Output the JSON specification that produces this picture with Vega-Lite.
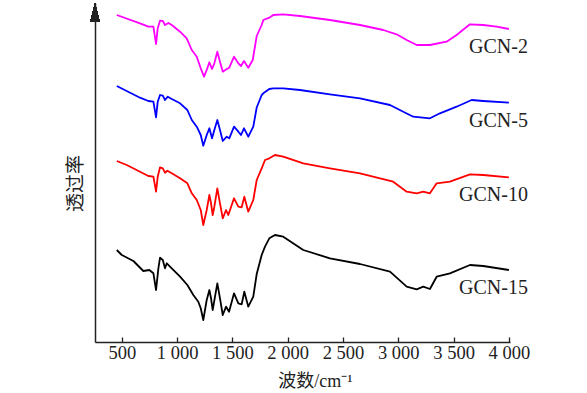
{
  "$schema": "https://vega.github.io/schema/vega-lite/v6.json",
  "width": 415,
  "height": 339,
  "autosize": {"type": "none"},
  "padding": {"left": 95, "top": 3, "right": 77, "bottom": 51},
  "background": "white",
  "config": {"view": {"stroke": null}, "axis": {"grid": false}},
  "data": {"values": [
    {"s":"GCN-2","wn":455,"t":327},{"s":"GCN-2","wn":665,"t":318.7},{"s":"GCN-2","wn":740,"t":315.3},{"s":"GCN-2","wn":786,"t":315.3},{"s":"GCN-2","wn":810,"t":298},{"s":"GCN-2","wn":825,"t":313.7},{"s":"GCN-2","wn":846,"t":321.3},{"s":"GCN-2","wn":871,"t":321},{"s":"GCN-2","wn":891,"t":317},{"s":"GCN-2","wn":921,"t":319},{"s":"GCN-2","wn":952,"t":317},{"s":"GCN-2","wn":1027,"t":310.3},{"s":"GCN-2","wn":1087,"t":303.7},{"s":"GCN-2","wn":1133,"t":292},{"s":"GCN-2","wn":1178,"t":285.3},{"s":"GCN-2","wn":1214,"t":273.7},{"s":"GCN-2","wn":1244,"t":265.3},{"s":"GCN-2","wn":1268,"t":272},{"s":"GCN-2","wn":1292,"t":279.7},{"s":"GCN-2","wn":1316,"t":273},{"s":"GCN-2","wn":1337,"t":278.7},{"s":"GCN-2","wn":1364,"t":290.3},{"s":"GCN-2","wn":1388,"t":280.3},{"s":"GCN-2","wn":1413,"t":270.3},{"s":"GCN-2","wn":1449,"t":273},{"s":"GCN-2","wn":1472,"t":274.3},{"s":"GCN-2","wn":1515,"t":285.3},{"s":"GCN-2","wn":1554,"t":278.7},{"s":"GCN-2","wn":1578,"t":276},{"s":"GCN-2","wn":1605,"t":281},{"s":"GCN-2","wn":1644,"t":274.3},{"s":"GCN-2","wn":1684,"t":282},{"s":"GCN-2","wn":1720,"t":306},{"s":"GCN-2","wn":1765,"t":317},{"s":"GCN-2","wn":1780,"t":322},{"s":"GCN-2","wn":1834,"t":324.3},{"s":"GCN-2","wn":1870,"t":327},{"s":"GCN-2","wn":1960,"t":327.7},{"s":"GCN-2","wn":2111,"t":326},{"s":"GCN-2","wn":2382,"t":322},{"s":"GCN-2","wn":2654,"t":317},{"s":"GCN-2","wn":2864,"t":312},{"s":"GCN-2","wn":2985,"t":307.7},{"s":"GCN-2","wn":3076,"t":302},{"s":"GCN-2","wn":3166,"t":297},{"s":"GCN-2","wn":3286,"t":297},{"s":"GCN-2","wn":3437,"t":300.3},{"s":"GCN-2","wn":3527,"t":307},{"s":"GCN-2","wn":3648,"t":317.7},{"s":"GCN-2","wn":3768,"t":317},{"s":"GCN-2","wn":3889,"t":315.3},{"s":"GCN-2","wn":4000,"t":313},

    {"s":"GCN-5","wn":455,"t":256},{"s":"GCN-5","wn":665,"t":244.3},{"s":"GCN-5","wn":740,"t":241},{"s":"GCN-5","wn":786,"t":240.3},{"s":"GCN-5","wn":810,"t":224.7},{"s":"GCN-5","wn":825,"t":240.3},{"s":"GCN-5","wn":846,"t":247},{"s":"GCN-5","wn":871,"t":246.3},{"s":"GCN-5","wn":891,"t":242},{"s":"GCN-5","wn":916,"t":245.3},{"s":"GCN-5","wn":952,"t":243},{"s":"GCN-5","wn":1027,"t":238.7},{"s":"GCN-5","wn":1093,"t":232},{"s":"GCN-5","wn":1133,"t":222},{"s":"GCN-5","wn":1178,"t":215.3},{"s":"GCN-5","wn":1214,"t":207},{"s":"GCN-5","wn":1237,"t":196.3},{"s":"GCN-5","wn":1268,"t":207},{"s":"GCN-5","wn":1292,"t":213.7},{"s":"GCN-5","wn":1316,"t":203.7},{"s":"GCN-5","wn":1337,"t":212},{"s":"GCN-5","wn":1364,"t":222},{"s":"GCN-5","wn":1388,"t":212},{"s":"GCN-5","wn":1413,"t":201},{"s":"GCN-5","wn":1449,"t":205.3},{"s":"GCN-5","wn":1472,"t":203.7},{"s":"GCN-5","wn":1515,"t":215.3},{"s":"GCN-5","wn":1554,"t":210.3},{"s":"GCN-5","wn":1578,"t":207},{"s":"GCN-5","wn":1605,"t":213.7},{"s":"GCN-5","wn":1644,"t":205.3},{"s":"GCN-5","wn":1689,"t":215.3},{"s":"GCN-5","wn":1720,"t":234.5},{"s":"GCN-5","wn":1765,"t":247},{"s":"GCN-5","wn":1780,"t":248.7},{"s":"GCN-5","wn":1834,"t":253},{"s":"GCN-5","wn":1870,"t":253.7},{"s":"GCN-5","wn":1960,"t":253.7},{"s":"GCN-5","wn":2111,"t":252},{"s":"GCN-5","wn":2382,"t":247.7},{"s":"GCN-5","wn":2654,"t":243.7},{"s":"GCN-5","wn":2925,"t":237},{"s":"GCN-5","wn":3045,"t":230.3},{"s":"GCN-5","wn":3135,"t":225.3},{"s":"GCN-5","wn":3286,"t":223.7},{"s":"GCN-5","wn":3377,"t":228.7},{"s":"GCN-5","wn":3527,"t":235.3},{"s":"GCN-5","wn":3663,"t":242},{"s":"GCN-5","wn":3768,"t":241},{"s":"GCN-5","wn":4000,"t":239.3},

    {"s":"GCN-10","wn":455,"t":181},{"s":"GCN-10","wn":545,"t":177},{"s":"GCN-10","wn":665,"t":170.3},{"s":"GCN-10","wn":740,"t":166},{"s":"GCN-10","wn":786,"t":165.3},{"s":"GCN-10","wn":810,"t":150.3},{"s":"GCN-10","wn":825,"t":165.3},{"s":"GCN-10","wn":846,"t":174.7},{"s":"GCN-10","wn":871,"t":173.7},{"s":"GCN-10","wn":891,"t":169.3},{"s":"GCN-10","wn":912,"t":171.3},{"s":"GCN-10","wn":952,"t":168.7},{"s":"GCN-10","wn":1027,"t":163.7},{"s":"GCN-10","wn":1093,"t":158.7},{"s":"GCN-10","wn":1133,"t":148.7},{"s":"GCN-10","wn":1178,"t":142},{"s":"GCN-10","wn":1214,"t":132},{"s":"GCN-10","wn":1237,"t":117},{"s":"GCN-10","wn":1268,"t":132},{"s":"GCN-10","wn":1292,"t":147},{"s":"GCN-10","wn":1307,"t":138.7},{"s":"GCN-10","wn":1322,"t":127},{"s":"GCN-10","wn":1337,"t":135.3},{"s":"GCN-10","wn":1364,"t":153.7},{"s":"GCN-10","wn":1388,"t":138.7},{"s":"GCN-10","wn":1413,"t":123.7},{"s":"GCN-10","wn":1443,"t":132},{"s":"GCN-10","wn":1463,"t":127},{"s":"GCN-10","wn":1515,"t":143.7},{"s":"GCN-10","wn":1554,"t":135.3},{"s":"GCN-10","wn":1584,"t":134.7},{"s":"GCN-10","wn":1608,"t":145.3},{"s":"GCN-10","wn":1644,"t":130.3},{"s":"GCN-10","wn":1689,"t":142},{"s":"GCN-10","wn":1720,"t":162},{"s":"GCN-10","wn":1765,"t":173.7},{"s":"GCN-10","wn":1795,"t":182},{"s":"GCN-10","wn":1834,"t":183.7},{"s":"GCN-10","wn":1885,"t":187},{"s":"GCN-10","wn":1960,"t":185.3},{"s":"GCN-10","wn":2141,"t":178.7},{"s":"GCN-10","wn":2382,"t":173.7},{"s":"GCN-10","wn":2654,"t":168.7},{"s":"GCN-10","wn":2954,"t":160.3},{"s":"GCN-10","wn":3076,"t":150.3},{"s":"GCN-10","wn":3166,"t":148.7},{"s":"GCN-10","wn":3226,"t":150.3},{"s":"GCN-10","wn":3286,"t":148.7},{"s":"GCN-10","wn":3347,"t":158.7},{"s":"GCN-10","wn":3467,"t":160.3},{"s":"GCN-10","wn":3648,"t":167.7},{"s":"GCN-10","wn":3768,"t":167},{"s":"GCN-10","wn":4000,"t":164.7},

    {"s":"GCN-15","wn":455,"t":92},{"s":"GCN-15","wn":500,"t":87},{"s":"GCN-15","wn":605,"t":81},{"s":"GCN-15","wn":695,"t":71},{"s":"GCN-15","wn":749,"t":72},{"s":"GCN-15","wn":786,"t":68.7},{"s":"GCN-15","wn":810,"t":52},{"s":"GCN-15","wn":831,"t":73.7},{"s":"GCN-15","wn":846,"t":84.3},{"s":"GCN-15","wn":871,"t":82},{"s":"GCN-15","wn":891,"t":73.7},{"s":"GCN-15","wn":907,"t":78.7},{"s":"GCN-15","wn":952,"t":73.7},{"s":"GCN-15","wn":1027,"t":65.3},{"s":"GCN-15","wn":1093,"t":57},{"s":"GCN-15","wn":1147,"t":47},{"s":"GCN-15","wn":1192,"t":40.3},{"s":"GCN-15","wn":1214,"t":33.7},{"s":"GCN-15","wn":1237,"t":22},{"s":"GCN-15","wn":1268,"t":42},{"s":"GCN-15","wn":1292,"t":52},{"s":"GCN-15","wn":1307,"t":43.7},{"s":"GCN-15","wn":1322,"t":32},{"s":"GCN-15","wn":1343,"t":45.3},{"s":"GCN-15","wn":1364,"t":58.7},{"s":"GCN-15","wn":1388,"t":43.7},{"s":"GCN-15","wn":1413,"t":27},{"s":"GCN-15","wn":1443,"t":35.3},{"s":"GCN-15","wn":1470,"t":30.3},{"s":"GCN-15","wn":1515,"t":48.7},{"s":"GCN-15","wn":1554,"t":38.7},{"s":"GCN-15","wn":1584,"t":37.7},{"s":"GCN-15","wn":1608,"t":50.3},{"s":"GCN-15","wn":1644,"t":35.3},{"s":"GCN-15","wn":1689,"t":45.3},{"s":"GCN-15","wn":1720,"t":68},{"s":"GCN-15","wn":1765,"t":87},{"s":"GCN-15","wn":1795,"t":95.3},{"s":"GCN-15","wn":1834,"t":103.7},{"s":"GCN-15","wn":1885,"t":107},{"s":"GCN-15","wn":1960,"t":105.3},{"s":"GCN-15","wn":2141,"t":92},{"s":"GCN-15","wn":2382,"t":83.7},{"s":"GCN-15","wn":2654,"t":78},{"s":"GCN-15","wn":2925,"t":70.3},{"s":"GCN-15","wn":3076,"t":55.3},{"s":"GCN-15","wn":3166,"t":52.7},{"s":"GCN-15","wn":3226,"t":55.3},{"s":"GCN-15","wn":3286,"t":53},{"s":"GCN-15","wn":3347,"t":65.3},{"s":"GCN-15","wn":3467,"t":68.7},{"s":"GCN-15","wn":3648,"t":77},{"s":"GCN-15","wn":3768,"t":76},{"s":"GCN-15","wn":4000,"t":72}
  ]},
  "layer": [
    {
      "mark": {"type": "line", "strokeWidth": 1.8, "strokeJoin": "round"},
      "encoding": {
        "x": {"field": "wn", "type": "quantitative",
          "scale": {"domain": [258, 4010], "nice": false, "zero": false},
          "axis": {
            "values": [500, 1000, 1500, 2000, 2500, 3000, 3500, 4000],
            "labelExpr": "replace(format(datum.value, ','), ',', ' ')",
            "labelFont": "Liberation Serif", "labelFontSize": 18.5, "labelColor": "#222",
            "labelPadding": 6, "labelDx": -3, "labelFlush": false, "labelOverlap": false,
            "tickSize": -5, "tickColor": "#222", "tickWidth": 1.3,
            "domainColor": "#222", "domainWidth": 1.5,
            "title": "波数/cm⁻¹", "titleFont": "Liberation Serif, Noto Sans CJK SC",
            "titleFontSize": 18, "titleFontWeight": "normal", "titleColor": "#222",
            "titleX": 220, "titleY": 44, "titleAlign": "center", "titleBaseline": "alphabetic"
          }},
        "y": {"field": "t", "type": "quantitative",
          "scale": {"domain": [0, 339], "nice": false, "zero": false},
          "axis": {
            "ticks": false, "labels": false,
            "domainColor": "#222", "domainWidth": 1.5,
            "title": "透过率", "titleFont": "Noto Sans CJK SC", "titleFontSize": 19,
            "titleFontWeight": "normal", "titleColor": "#222",
            "titleX": -10, "titleY": 180, "titleAngle": -90, "titleAlign": "center", "titleBaseline": "bottom"
          }},
        "color": {"field": "s", "type": "nominal", "legend": null,
          "scale": {"domain": ["GCN-2", "GCN-5", "GCN-10", "GCN-15"],
                    "range": ["#ff00ff", "#0000ff", "#ff0000", "#000000"]}}
      }
    },
    {
      "transform": [{"filter": "datum.wn >= 4000"}],
      "mark": {"type": "text", "align": "right", "baseline": "alphabetic", "dx": 19, "dy": 24,
               "font": "Liberation Serif", "fontSize": 20, "color": "#222"},
      "encoding": {
        "x": {"field": "wn", "type": "quantitative"},
        "y": {"field": "t", "type": "quantitative"},
        "text": {"field": "s"}
      }
    },
    {
      "mark": {"type": "point", "shape": "M0,-1L0.5,1L-0.5,1Z", "filled": true, "color": "#222",
               "size": 361, "opacity": 1, "clip": false},
      "encoding": {
        "x": {"datum": 258, "type": "quantitative"},
        "y": {"datum": 329.5, "type": "quantitative"}
      }
    }
  ]
}
